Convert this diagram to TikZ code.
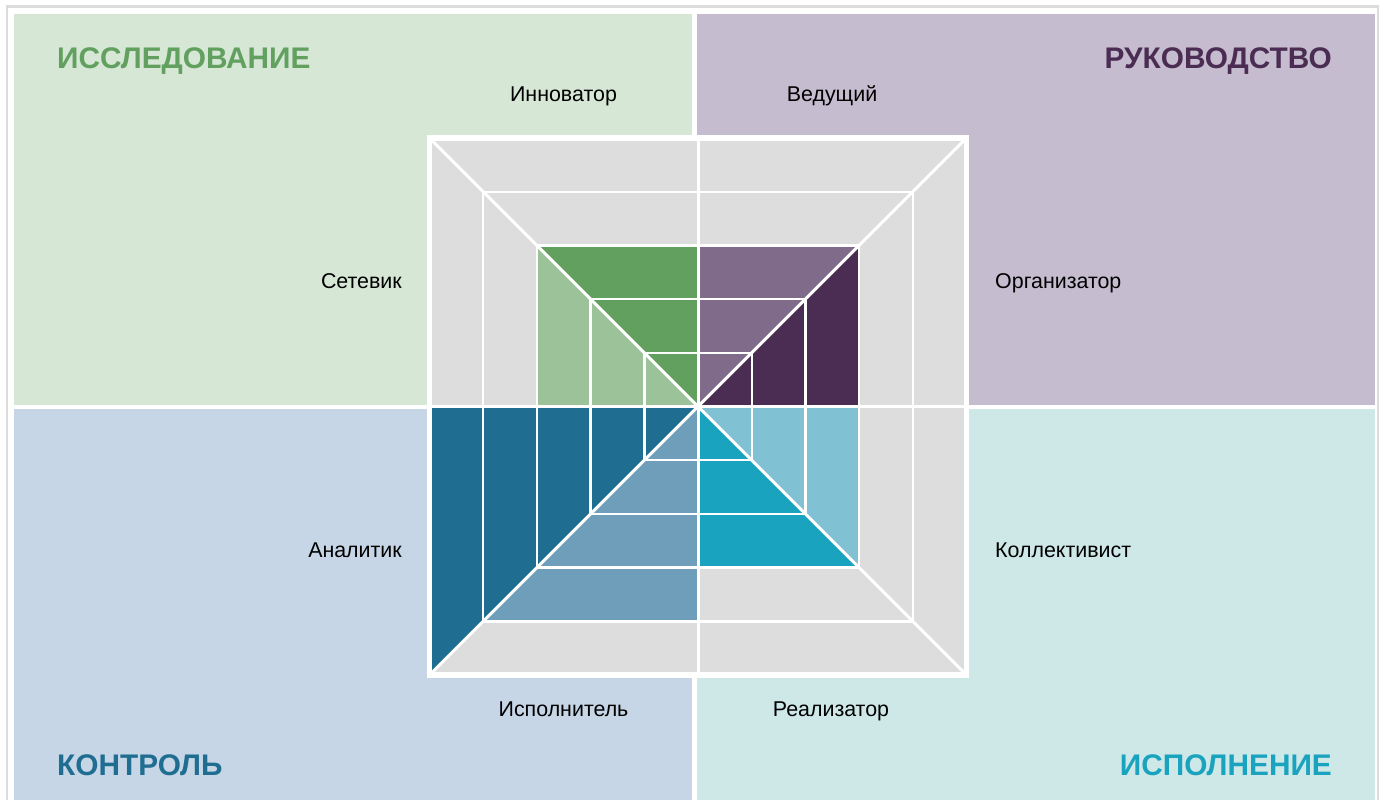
\documentclass[tikz,border=0pt]{standalone}
\usepackage{fontspec}
\setmainfont{Liberation Sans}
\definecolor{frameGray}{HTML}{DCDCDC}
\definecolor{cellGray}{HTML}{DDDDDD}
\definecolor{panGreen}{HTML}{D6E7D6}
\definecolor{panPurple}{HTML}{C6BCCF}
\definecolor{panBlue}{HTML}{C6D6E6}
\definecolor{panTeal}{HTML}{CEE8E8}
\definecolor{dGreen}{HTML}{62A060}
\definecolor{lGreen}{HTML}{9CC299}
\definecolor{mPurple}{HTML}{816B8A}
\definecolor{dPurple}{HTML}{4B2D53}
\definecolor{dBlue}{HTML}{1F6E91}
\definecolor{lBlue}{HTML}{6F9EBB}
\definecolor{dTeal}{HTML}{19A3BF}
\definecolor{lTeal}{HTML}{81C1D4}
\tikzset{
  ringline/.style={draw=white, line width=2.4pt},
  axisline/.style={draw=white, line width=3pt},
  outerline/.style={draw=white, line width=5.5pt},
  role/.style={font=\fontsize{21.4}{25}\selectfont, text=black, inner sep=0pt},
  title/.style={font=\fontsize{29.8}{35}\selectfont\bfseries, inner sep=0pt}
}
\begin{document}
\begin{tikzpicture}[x=1pt,y=-1pt]
\useasboundingbox (0,0) rectangle (1386,800);
\fill[white] (0,0) rectangle (1386,800);
% outer frame
\draw[frameGray, line width=2.5pt] (7,800) -- (7,6.5) -- (1378,6.5) -- (1378,800);
% quadrant panels
\fill[panGreen] (14,14) rectangle (692,405);
\fill[panPurple] (697,14) rectangle (1375,405);
\fill[panBlue] (14,409) rectangle (692,800);
\fill[panTeal] (697,409) rectangle (1375,800);
% central chart
\coordinate (C) at (698,406.5);
\begin{scope}[shift={(C)}]
  \def\rA{53.7}\def\rB{107.4}\def\rC{161.1}\def\rD{214.8}\def\rE{268.5}
  \fill[cellGray] (-\rE,-\rE) rectangle (\rE,\rE);
  \fill[dGreen] (0,0) -- (0,-\rC) -- (-\rC,-\rC) -- cycle;
  \fill[lGreen] (0,0) -- (-\rC,-\rC) -- (-\rC,0) -- cycle;
  \fill[mPurple] (0,0) -- (0,-\rC) -- (\rC,-\rC) -- cycle;
  \fill[dPurple] (0,0) -- (\rC,-\rC) -- (\rC,0) -- cycle;
  \fill[dBlue] (0,0) -- (-\rE,0) -- (-\rE,\rE) -- cycle;
  \fill[lBlue] (0,0) -- (-\rD,\rD) -- (0,\rD) -- cycle;
  \fill[dTeal] (0,0) -- (0,\rC) -- (\rC,\rC) -- cycle;
  \fill[lTeal] (0,0) -- (\rC,0) -- (\rC,\rC) -- cycle;
  \foreach \r in {\rA,\rB,\rC,\rD}
    \draw[ringline] (-\r,-\r) rectangle (\r,\r);
  \draw[axisline] (0,-\rE) -- (0,\rE);
  \draw[axisline] (-\rE,0) -- (\rE,0);
  \draw[axisline] (-\rE,-\rE) -- (\rE,\rE);
  \draw[axisline] (-\rE,\rE) -- (\rE,-\rE);
  \draw[outerline] (-\rE,-\rE) rectangle (\rE,\rE);
\end{scope}
% titles
\node[title, text=dGreen, anchor=base west] (tRes) at (57,68) {ИССЛЕДОВАНИЕ};
\node[title, text=dPurple, anchor=base east] (tLead) at (1332,68) {РУКОВОДСТВО};
\node[title, text=dBlue, anchor=base west] (tCtrl) at (57,775) {КОНТРОЛЬ};
\node[title, text=dTeal, anchor=base east] (tExec) at (1332,775) {ИСПОЛНЕНИЕ};
% role labels
\node[role, anchor=base] (inn) at (563.5,101.5) {Инноватор};
\node[role, anchor=base] (ved) at (832,101.5) {Ведущий};
\node[role, anchor=base east] (set) at (402,288) {Сетевик};
\node[role, anchor=base west] (org) at (995,288) {Организатор};
\node[role, anchor=base east] (ana) at (402,557) {Аналитик};
\node[role, anchor=base west] (kol) at (995,557) {Коллективист};
\node[role, anchor=base] (isp) at (563.5,716) {Исполнитель};
\node[role, anchor=base] (rea) at (831,716) {Реализатор};
\end{tikzpicture}
\end{document}
